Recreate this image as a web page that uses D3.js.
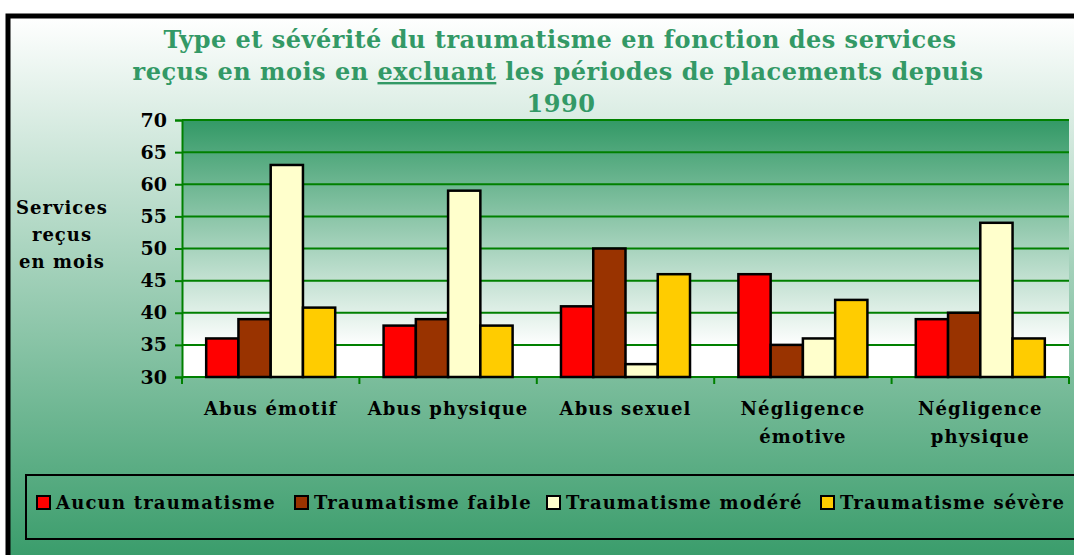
<!DOCTYPE html>
<html>
<head>
<meta charset="utf-8">
<script src="https://cdn.jsdelivr.net/npm/d3@7"></script>
<style>
  body { margin: 0; background: #fff; }
  text { font-family: "DejaVu Serif", serif; font-weight: bold; }
</style>
</head>
<body>
<div id="chart"></div>
<script>
// data
var categories = ["Abus émotif", "Abus physique", "Abus sexuel", "Négligence\némotive", "Négligence\nphysique"]
var series = ["Aucun traumatisme", "Traumatisme faible", "Traumatisme modéré", "Traumatisme sévère"]
var aucun = [36, 38, 41, 46, 39]
var faible = [39, 39, 50, 35, 40]
var modere = [63, 59, 32, 36, 54]
var severe = [40.8, 38, 46, 42, 36]
var yTicks = [30, 35, 40, 45, 50, 55, 60, 65, 70]
var colors = ["#ff0000", "#993300", "#ffffcc", "#ffcc00"]

var allValues = [aucun, faible, modere, severe]

var width = 1074, height = 555
var plot = { left: 182, right: 1069, top: 120, bottom: 377 }

var svg = d3.select("#chart").append("svg")
    .attr("width", width)
    .attr("height", height)

var defs = svg.append("defs")
var outerGrad = defs.append("linearGradient").attr("id", "outerGrad")
    .attr("x1", 0).attr("y1", 0).attr("x2", 0).attr("y2", 1)
outerGrad.append("stop").attr("offset", "0%").attr("stop-color", "#ffffff")
outerGrad.append("stop").attr("offset", "100%").attr("stop-color", "#339966")

var plotGrad = defs.append("linearGradient").attr("id", "plotGrad")
    .attr("x1", 0).attr("y1", 0).attr("x2", 0).attr("y2", 1)
plotGrad.append("stop").attr("offset", "0%").attr("stop-color", "#339966")
plotGrad.append("stop").attr("offset", "88%").attr("stop-color", "#ffffff")
plotGrad.append("stop").attr("offset", "100%").attr("stop-color", "#ffffff")

// outer frame
svg.append("rect")
    .attr("x", 8).attr("y", 16)
    .attr("width", 1080).attr("height", 560)
    .attr("fill", "url(#outerGrad)")
    .attr("stroke", "#000").attr("stroke-width", 5)

// plot area
svg.append("rect")
    .attr("x", plot.left).attr("y", plot.top)
    .attr("width", plot.right - plot.left).attr("height", plot.bottom - plot.top)
    .attr("fill", "url(#plotGrad)")

// scales
var x = d3.scaleBand()
    .domain(categories)
    .range([plot.left, plot.right])
    .paddingInner(1.5 / 5.5)
    .paddingOuter(0.75 / 5.5)

var xInner = d3.scaleBand()
    .domain(series)
    .range([0, x.bandwidth()])

var y = d3.scaleLinear()
    .domain([30, 70])
    .range([plot.bottom, plot.top])

// gridlines
svg.append("g")
    .selectAll("line")
    .data(yTicks)
    .enter()
    .append("line")
    .attr("x1", plot.left).attr("x2", plot.right)
    .attr("y1", function (d) { return y(d) })
    .attr("y2", function (d) { return y(d) })
    .attr("stroke", "#008000")
    .attr("stroke-width", 2)

// y axis
var yAxis = svg.append("g")
    .attr("transform", "translate(" + plot.left + ",0)")
    .call(d3.axisLeft(y).tickValues(yTicks).tickSize(7).tickPadding(8))
yAxis.selectAll("line, path").attr("stroke", "#008000").attr("stroke-width", 2)
yAxis.selectAll("text")
    .attr("fill", "#000")
    .style("font-size", "19px")
    .style("font-family", "DejaVu Serif")

// x axis boundaries
var boundaries = d3.range(categories.length + 1).map(function (i) {
    return plot.left + i * x.step()
})
svg.append("line")
    .attr("x1", plot.left).attr("x2", plot.right)
    .attr("y1", plot.bottom).attr("y2", plot.bottom)
    .attr("stroke", "#008000").attr("stroke-width", 2)
svg.append("g")
    .selectAll("line")
    .data(boundaries)
    .enter()
    .append("line")
    .attr("x1", function (d) { return d }).attr("x2", function (d) { return d })
    .attr("y1", plot.bottom).attr("y2", plot.bottom + 7)
    .attr("stroke", "#008000").attr("stroke-width", 2)

// bars
var groups = svg.append("g")
    .selectAll("g")
    .data(categories)
    .enter()
    .append("g")
    .attr("transform", function (d) { return "translate(" + x(d) + ",0)" })

groups.selectAll("rect")
    .data(function (d, i) {
        return series.map(function (s, j) {
            return { key: s, value: allValues[j][i], color: colors[j] }
        })
    })
    .enter()
    .append("rect")
    .attr("x", function (d) { return xInner(d.key) })
    .attr("y", function (d) { return y(d.value) })
    .attr("width", xInner.bandwidth())
    .attr("height", function (d) { return y(30) - y(d.value) })
    .attr("fill", function (d) { return d.color })
    .attr("stroke", "#000")
    .attr("stroke-width", 2.5)

// category labels
svg.append("g")
    .selectAll("text")
    .data(categories)
    .enter()
    .append("text")
    .attr("text-anchor", "middle")
    .style("font-size", "18px")
    .style("letter-spacing", "1.1px")
    .each(function (d) {
        var t = d3.select(this)
        d.split("\n").forEach(function (line, i) {
            t.append("tspan")
                .attr("x", x(d) + x.bandwidth() / 2)
                .attr("y", 415 + i * 28)
                .text(line)
        })
    })

// y axis title
var yTitle = svg.append("text")
    .attr("text-anchor", "middle")
    .style("font-size", "18px")
    .style("letter-spacing", "1px")
;["Services", "reçus", "en mois"].forEach(function (line, i) {
    yTitle.append("tspan").attr("x", 62).attr("y", 214 + i * 27).text(line)
})

// title
var title = svg.append("text")
    .attr("text-anchor", "middle")
    .attr("fill", "#339966")
    .style("font-size", "24px")
    .style("letter-spacing", "0.5px")
title.append("tspan").attr("x", 560).attr("y", 48)
    .text("Type et sévérité du traumatisme en fonction des services")
var l2 = title.append("tspan").attr("x", 558).attr("y", 80)
l2.append("tspan").text("reçus en mois en ")
l2.append("tspan").style("text-decoration", "underline").text("excluant")
l2.append("tspan").text(" les périodes de placements depuis")
title.append("tspan").attr("x", 561).attr("y", 112).text("1990")

// legend
svg.append("rect")
    .attr("x", 26).attr("y", 475)
    .attr("width", 1070).attr("height", 64)
    .attr("fill", "none")
    .attr("stroke", "#000").attr("stroke-width", 2)

var legendX = [37, 295, 547, 821]
var legend = svg.append("g")
    .selectAll("g")
    .data(series)
    .enter()
    .append("g")
    .attr("transform", function (d, i) { return "translate(" + legendX[i] + ",496)" })
legend.append("rect")
    .attr("width", 13).attr("height", 13)
    .attr("fill", function (d, i) { return colors[i] })
    .attr("stroke", "#000").attr("stroke-width", 2)
legend.append("text")
    .attr("x", 19).attr("y", 13)
    .style("font-size", "18px")
    .style("letter-spacing", "1.2px")
    .text(function (d) { return d })
</script>
</body>
</html>
